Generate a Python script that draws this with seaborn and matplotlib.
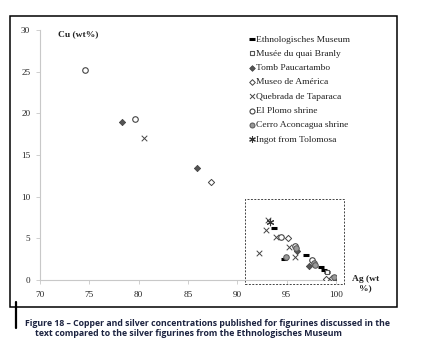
import matplotlib
matplotlib.use("Agg")
import matplotlib.pyplot as plt
import matplotlib.patches as patches
import seaborn as sns
import pandas as pd

# Ag / Cu (wt%), one pair of lists per source
ethno_ag = [93.7, 94.7, 97.0, 98.5, 98.8, 99.1]
ethno_cu = [6.2, 2.5, 3.0, 1.5, 1.2, 0.9]
branly_ag = [99.1]
branly_cu = [1.0]
tomb_ag = [78.3, 85.9, 96.0, 97.3, 99.8]
tomb_cu = [19.0, 13.4, 3.5, 1.7, 0.1]
museo_ag = [87.3, 95.1, 99.0, 99.6]
museo_cu = [11.8, 5.0, 0.1, 0.2]
quebrada_ag = [80.5, 93.1, 92.9, 93.9, 95.2, 92.2, 95.8]
quebrada_cu = [17.0, 7.2, 6.0, 5.1, 4.0, 3.2, 2.7]
plomo_ag = [74.6, 79.6, 94.4, 95.8, 97.6]
plomo_cu = [25.2, 19.3, 5.1, 4.1, 2.4]
cerro_ag = [95.9, 94.9, 97.8, 97.9, 99.8]
cerro_cu = [3.8, 2.8, 2.0, 1.8, 0.3]
ingot_ag = [93.3]
ingot_cu = [6.9]

x_ticks = [70, 75, 80, 85, 90, 95, 100]
y_ticks = [0, 5, 10, 15, 20, 25, 30]

series = [
    ("Ethnologisches Museum", ethno_ag, ethno_cu,
     dict(marker="_", s=20, color="black", linewidths=2.2)),
    ("Musée du quai Branly", branly_ag, branly_cu,
     dict(marker="s", s=12, facecolor="white", edgecolor="#555555", linewidth=0.8)),
    ("Tomb Paucartambo", tomb_ag, tomb_cu,
     dict(marker="D", s=10, color="#555555", edgecolor="#444444", linewidth=0.6)),
    ("Museo de América", museo_ag, museo_cu,
     dict(marker="D", s=10, facecolor="white", edgecolor="#444444", linewidth=0.7)),
    ("Quebrada de Taparaca", quebrada_ag, quebrada_cu,
     dict(marker="x", s=16, color="#444444", linewidth=0.7)),
    ("El Plomo shrine", plomo_ag, plomo_cu,
     dict(marker="o", s=16, facecolor="white", edgecolor="#444444", linewidth=0.8)),
    ("Cerro Aconcagua shrine", cerro_ag, cerro_cu,
     dict(marker="o", s=16, color="#999999", edgecolor="#555555", linewidth=0.7)),
    ("Ingot from Tolomosa", ingot_ag, ingot_cu,
     dict(marker=(6, 2, 0), s=22, color="#333333", linewidth=0.8)),
]

sns.set_style("white")
plt.rcParams["font.family"] = ["Liberation Serif", "DejaVu Serif"]

fig = plt.figure(figsize=(4.21, 3.51), dpi=100)
ax = fig.add_axes([0.095, 0.2023, 0.7031, 0.7123])

for name, ag, cu, style in series:
    df = pd.DataFrame({"Ag": ag, "Cu": cu})
    sns.scatterplot(data=df, x="Ag", y="Cu", ax=ax, label=name, zorder=3, **style)

ax.set_xlim(70, 100)
ax.set_ylim(0, 30)
ax.set_xticks(x_ticks)
ax.set_yticks(y_ticks)
ax.set_xlabel("")
ax.set_ylabel("")
for side in ["top", "right"]:
    ax.spines[side].set_visible(False)
for side in ["left", "bottom"]:
    ax.spines[side].set_color("#c8c8c8")
    ax.spines[side].set_linewidth(0.8)
ax.tick_params(axis="both", which="major", length=3, width=0.6, color="#c8c8c8",
               labelsize=6.6, labelcolor="#222222", direction="out",
               bottom=True, left=True)
ax.tick_params(axis="x", pad=5)
ax.tick_params(axis="y", pad=4)

ax.text(0.06, 0.985, "Cu (wt%)", transform=ax.transAxes, fontsize=6.8,
        fontweight="bold", va="center", ha="left", color="#222222")
ax.text(1.1, -0.015, "Ag (wt\n%)", transform=ax.transAxes, fontsize=6.8,
        fontweight="bold", va="center", ha="center", color="#222222",
        linespacing=1.3)

# dashed box around the high-silver cluster
box = patches.Rectangle((90.75, -0.5), 10.1, 10.25, fill=False, edgecolor="#444444",
                        linestyle=(0, (2, 1.5)), linewidth=0.7, clip_on=False, zorder=2)
ax.add_patch(box)

leg = ax.legend(loc="upper left", bbox_to_anchor=(0.69, 0.995), frameon=False,
                fontsize=6.8, handletextpad=0.05, handlelength=0.8,
                labelspacing=0.6, borderaxespad=0, markerscale=0.9)
for t in leg.get_texts():
    t.set_color("#222222")

# outer frame around the chart
frame = patches.Rectangle((10 / 421, 1 - 307 / 351), 387 / 421, 291 / 351,
                          transform=fig.transFigure, fill=False,
                          edgecolor="black", linewidth=1.1)
fig.patches.append(frame)
# caption marker bar
fig.add_artist(plt.Line2D([16 / 421, 16 / 421], [1 - 302 / 351, 1 - 328 / 351],
                          transform=fig.transFigure, color="black", linewidth=1.6))

cap_font = ["Open Sans", "DejaVu Sans"]
fig.text(25 / 421, 1 - 323 / 351,
         "Figure 18 \u2013 Copper and silver concentrations published for figurines discussed in the",
         fontsize=6.35, family=cap_font, fontweight="bold", color="#1c2340", va="center")
fig.text(35 / 421, 1 - 334 / 351,
         "text compared to the silver figurines from the Ethnologisches Museum",
         fontsize=6.35, family=cap_font, fontweight="bold", color="#1c2340", va="center")

fig.savefig("out.png", dpi=100, facecolor="white")
